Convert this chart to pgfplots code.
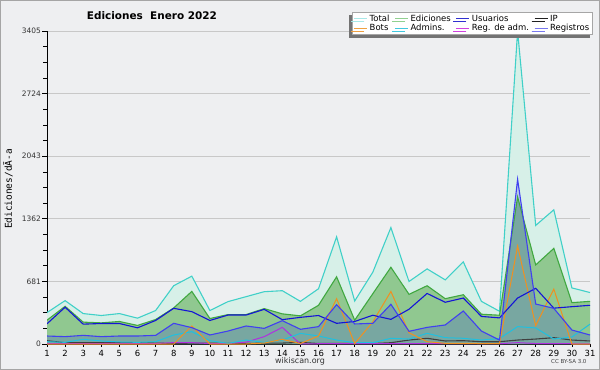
\documentclass[border=0pt]{standalone}
\usepackage{fontspec}
\setmainfont{DejaVu Sans}
\newfontfamily\monofont{DejaVu Sans Mono}
\usepackage{pgfplots}
\usepackage{pgfplotstable}
\pgfplotsset{compat=1.18}
\usetikzlibrary{shadows}

\definecolor{bgc}{RGB}{238,239,241}
\definecolor{framec}{RGB}{165,165,165}
\definecolor{gridc}{RGB}{200,200,200}
\definecolor{totfill}{RGB}{215,240,232}
\definecolor{totline}{RGB}{64,208,200}
\definecolor{edfill}{RGB}{144,200,144}
\definecolor{edline}{RGB}{64,168,64}
\definecolor{regsline}{RGB}{64,64,240}
\definecolor{usline}{RGB}{20,20,215}
\definecolor{botsline}{RGB}{240,144,32}
\definecolor{admline}{RGB}{32,192,224}
\definecolor{regaline}{RGB}{176,48,224}
\definecolor{ipline}{RGB}{64,64,64}
% legend colours
\definecolor{lgtot}{RGB}{168,232,232}
\definecolor{lged}{RGB}{144,208,144}
\definecolor{lgus}{RGB}{48,48,208}
\definecolor{lgip}{RGB}{32,32,32}
\definecolor{lgbots}{RGB}{240,160,64}
\definecolor{lgadm}{RGB}{64,200,224}
\definecolor{lgrega}{RGB}{208,64,224}
\definecolor{lgregs}{RGB}{120,120,240}

\pgfplotstableread{
d tot ed us ip bots adm rega regs
1 342 259 220 36 0 25 5 87
2 472 410 400 14 0 18 5 80
3 331 238 216 14 0 51 5 94
4 310 230 223 14 0 33 5 80
5 331 245 223 14 0 22 8 87
6 281 202 176 14 0 18 5 87
7 364 266 256 10 0 25 5 94
8 634 392 388 5 0 98 15 225
9 738 572 352 10 196 134 15 178
10 364 277 256 10 0 36 5 98
11 461 320 315 5 0 7 5 141
12 515 320 315 5 0 43 20 196
13 569 385 377 10 10 18 80 170
14 580 328 265 10 51 43 181 254
15 464 306 290 18 5 116 0 160
16 601 421 310 5 87 87 3 189
17 1166 731 225 5 493 43 3 428
18 468 259 245 5 5 14 3 218
19 781 547 313 5 241 14 3 225
20 1267 835 268 14 572 62 3 432
21 680 540 378 43 122 54 3 138
22 817 634 550 62 25 116 3 181
23 698 493 454 33 7 69 3 207
24 893 536 500 36 7 62 3 359
25 464 324 300 25 5 43 3 141
26 356 313 284 25 5 60 3 43
27 3405 1600 500 43 1066 189 15 1792
28 1290 860 606 54 200 175 5 435
29 1460 1040 390 69 598 54 3 388
30 610 450 406 43 0 76 3 152
31 560 464 421 33 0 216 0 98
}\data

\begin{document}
\begin{tikzpicture}
\useasboundingbox (0,0) rectangle (600bp,-370bp);
\fill[bgc] (0,0) rectangle (600bp,-370bp);
\draw[framec, line width=1bp] (0.5bp,-0.5bp) rectangle (599.5bp,-369.5bp);

\begin{axis}[
  at={(47bp,-344bp)}, anchor=south west,
  scale only axis, width=543bp, height=313bp,
  xmin=1, xmax=31, ymin=0, ymax=3405,
  axis x line*=bottom, axis y line*=left,
  x axis line style={-, black, line width=1.6bp},
  y axis line style={-, black, line width=0.9bp},
  xtick={1,...,31},
  ytick={0,681,1362,2043,2724,3405},
  yticklabels={0,681,1362,2043,2724,3405},
  minor y tick num=3,
  ymajorgrids, grid style={draw=gridc, line width=0.9bp},
  tick align=outside,
  major tick length=5bp, minor tick length=4bp,
  tick style={black, line width=0.7bp},
  xtick style={/pgfplots/major tick length=3bp},
  /pgf/number format/assume math mode=true,
  xticklabel style={font=\fontsize{8.5}{9}\selectfont, inner sep=1bp},
  yticklabel style={font=\fontsize{7.5}{8}\selectfont, inner sep=1bp, text=black!80},
  legend columns=4,
  legend cell align=left,
  legend image code/.code={\draw[#1, line width=1.1bp] (0bp,0bp) -- (13bp,0bp);},
  legend style={at={(1.0055,1.0607)}, anchor=north east, draw=black!35, fill=white,
    line width=0.6bp, inner xsep=1.5bp, inner ysep=0.5bp, row sep=-2.5bp,
    font=\fontsize{8.5}{9}\selectfont,
    drop shadow={shadow xshift=-3bp, shadow yshift=-3bp, fill=black!55, opacity=1},
    /tikz/every even column/.append style={column sep=3bp}},
]
% fills
\addplot[forget plot, draw=none, fill=totfill] table[x=d,y=tot] {\data} \closedcycle;
\addplot[forget plot, draw=none, fill=edfill] table[x=d,y=ed] {\data} \closedcycle;
\addplot[forget plot, draw=none, fill=blue, fill opacity=0.16] table[x=d,y=regs] {\data} \closedcycle;
% lines
\addplot[forget plot, totline, line width=1.1bp] table[x=d,y=tot] {\data};
\addplot[forget plot, edline, line width=1.1bp] table[x=d,y=ed] {\data};
\addplot[forget plot, ipline, line width=1.1bp] table[x=d,y=ip] {\data};
\addplot[forget plot, regaline, line width=1bp] table[x=d,y=rega] {\data};
\addplot[forget plot, admline, line width=1bp] table[x=d,y=adm] {\data};
\addplot[forget plot, botsline, line width=1bp] table[x=d,y=bots] {\data};
\addplot[forget plot, usline, line width=1.1bp] table[x=d,y=us] {\data};
\addplot[forget plot, regsline, line width=1.1bp] table[x=d,y=regs] {\data};
% legend
\addlegendimage{lgtot}\addlegendentry{Total}
\addlegendimage{lged}\addlegendentry{Ediciones}
\addlegendimage{lgus}\addlegendentry{Usuarios}
\addlegendimage{lgip}\addlegendentry{IP}
\addlegendimage{lgbots}\addlegendentry{Bots}
\addlegendimage{lgadm}\addlegendentry{Admins.}
\addlegendimage{lgrega}\addlegendentry{Reg. de adm.}
\addlegendimage{lgregs}\addlegendentry{Registros}
\end{axis}

\node[font=\fontsize{10.5}{12}\selectfont\bfseries] at (152bp,-16bp) {Ediciones\ \ Enero 2022};
\node[rotate=90, font=\monofont\fontsize{9.5}{10}\selectfont] at (8bp,-189bp) {Ediciones/dÃ-a};
\node[font=\fontsize{8}{9}\selectfont, text=black!80] at (300bp,-361bp) {wikiscan.org};
\node[font=\fontsize{5.5}{6}\selectfont, text=black!75, anchor=east] at (590bp,-362bp) {CC BY-SA 3.0};
\end{tikzpicture}
\end{document}
